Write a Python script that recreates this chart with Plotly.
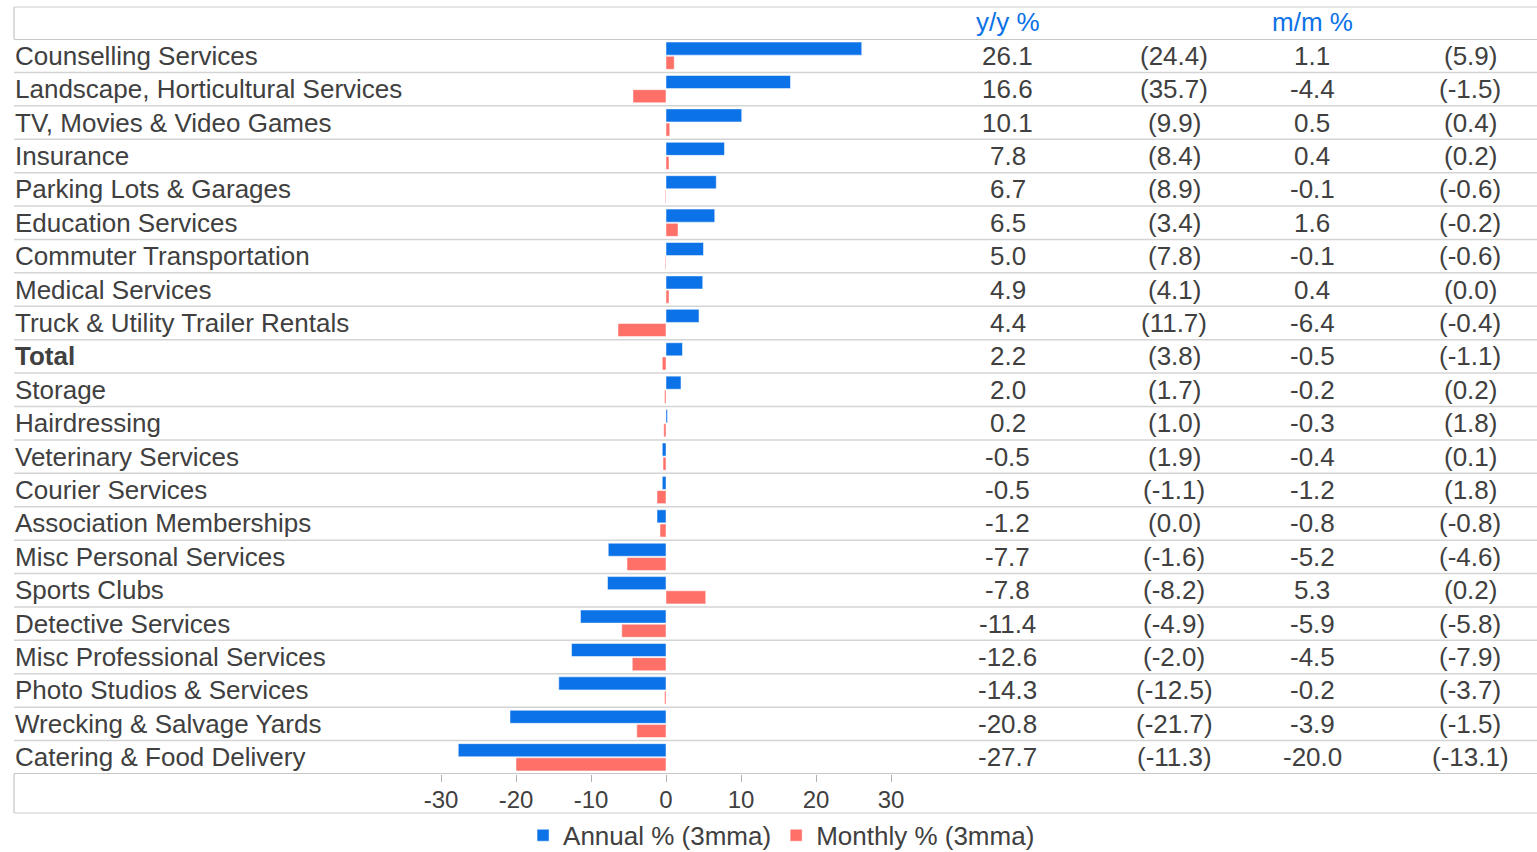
import plotly.graph_objects as go

categories = [
    "Counselling Services", "Landscape, Horticultural Services", "TV, Movies & Video Games",
    "Insurance", "Parking Lots & Garages", "Education Services", "Commuter Transportation",
    "Medical Services", "Truck & Utility Trailer Rentals", "Total", "Storage", "Hairdressing",
    "Veterinary Services", "Courier Services", "Association Memberships", "Misc Personal Services",
    "Sports Clubs", "Detective Services", "Misc Professional Services", "Photo Studios & Services",
    "Wrecking & Salvage Yards", "Catering & Food Delivery",
]
annual = [26.1, 16.6, 10.1, 7.8, 6.7, 6.5, 5.0, 4.9, 4.4, 2.2, 2.0, 0.2, -0.5, -0.5, -1.2,
          -7.7, -7.8, -11.4, -12.6, -14.3, -20.8, -27.7]
annual_prev = [24.4, 35.7, 9.9, 8.4, 8.9, 3.4, 7.8, 4.1, 11.7, 3.8, 1.7, 1.0, 1.9, -1.1, 0.0,
               -1.6, -8.2, -4.9, -2.0, -12.5, -21.7, -11.3]
monthly = [1.1, -4.4, 0.5, 0.4, -0.1, 1.6, -0.1, 0.4, -6.4, -0.5, -0.2, -0.3, -0.4, -1.2, -0.8,
           -5.2, 5.3, -5.9, -4.5, -0.2, -3.9, -20.0]
monthly_prev = [5.9, -1.5, 0.4, 0.2, -0.6, -0.2, -0.6, 0.0, -0.4, -1.1, 0.2, 1.8, 0.1, 1.8, -0.8,
                -4.6, 0.2, -5.8, -7.9, -3.7, -1.5, -13.1]
tick_vals = [-30, -20, -10, 0, 10, 20, 30]
tick_text = ["-30", "-20", "-10", "0", "10", "20", "30"]

W, H = 1537, 852
BLUE = "#0B72E7"
RED = "#FF7069"
TXT = "#404040"
FONT = "Liberation Sans, Arial, sans-serif"
FS = 26

def px(x):
    return x / W

def py(y):
    return 1 - y / H

fig = go.Figure()
fig.add_trace(go.Bar(y=categories, x=annual, orientation="h", name="Annual % (3mma)",
                     marker=dict(color=BLUE, line=dict(color="rgba(255,255,255,0.5)", width=1))))
fig.add_trace(go.Bar(y=categories, x=monthly, orientation="h", name="Monthly % (3mma)",
                     marker=dict(color=RED, line=dict(color="rgba(255,255,255,0.5)", width=1))))

zero_px = 666
scale = 7.5
fig.update_layout(
    width=W, height=H, margin=dict(l=0, r=0, t=0, b=0, autoexpand=False),
    paper_bgcolor="white", plot_bgcolor="white",
    barmode="group", bargap=0.15, bargroupgap=0.08,
    font=dict(family=FONT, size=FS, color=TXT),
    xaxis=dict(domain=[0, 1], range=[(0 - zero_px) / scale, (W - zero_px) / scale],
               tickvals=tick_vals, ticktext=tick_text, ticks="outside", ticklen=7,
               tickcolor="#b0b0b0", ticklabelstandoff=-3,
               showgrid=False, zeroline=False, showline=False,
               tickfont=dict(size=24, color=TXT)),
    yaxis=dict(domain=[py(774), py(39)], categoryorder="array", categoryarray=categories,
               range=[len(categories) - 0.5, -0.5], showticklabels=False, showgrid=False,
               zeroline=False, showline=False, ticks=""),
    legend=dict(orientation="h", x=0.5085, xanchor="center", y=-0.008, yanchor="bottom",
                font=dict(size=FS, color=TXT), itemwidth=30, traceorder="normal",
                bgcolor="rgba(0,0,0,0)"),
    showlegend=True,
)

shapes = []
# row separators
for i in range(len(categories) + 1):
    yv = i - 0.5
    col = "#b4b4b4" if i in (0, len(categories)) else "#d4d4d4"
    shapes.append(dict(type="line", xref="paper", yref="y", x0=px(14), x1=1, y0=yv, y1=yv,
                       line=dict(color=col, width=1.5)))
# frame
shapes.append(dict(type="line", xref="paper", yref="paper", x0=px(14), x1=1, y0=py(7), y1=py(7),
                   line=dict(color="#dcdcdc", width=1.5)))
shapes.append(dict(type="line", xref="paper", yref="paper", x0=px(14), x1=1, y0=py(813), y1=py(813),
                   line=dict(color="#dcdcdc", width=1.5)))
shapes.append(dict(type="line", xref="paper", yref="paper", x0=px(14), x1=px(14), y0=py(7), y1=py(39),
                   line=dict(color="#d0d0d0", width=1.5)))
shapes.append(dict(type="line", xref="paper", yref="paper", x0=px(14), x1=px(14), y0=py(774), y1=py(813),
                   line=dict(color="#d0d0d0", width=1.5)))
fig.update_layout(shapes=shapes)

ann = []
for i, c in enumerate(categories):
    label = f"<b>{c}</b>" if c == "Total" else c
    ann.append(dict(x=px(13), xref="paper", y=c, yref="y", text=label, showarrow=False,
                    xanchor="left", yanchor="middle", font=dict(size=FS, color=TXT)))
    cols = [(1008, f"{annual[i]:.1f}"), (1174, f"({annual_prev[i]:.1f})"),
            (1312, f"{monthly[i]:.1f}"), (1470, f"({monthly_prev[i]:.1f})")]
    for xc, t in cols:
        ann.append(dict(x=px(xc), xref="paper", y=c, yref="y", text=t, showarrow=False,
                        xanchor="center", yanchor="middle", font=dict(size=FS, color=TXT)))
for xc, t in [(1008, "y/y %"), (1312, "m/m %")]:
    ann.append(dict(x=px(xc), xref="paper", y=py(22), yref="paper", text=t, showarrow=False,
                    xanchor="center", yanchor="middle", font=dict(size=FS, color=BLUE)))
fig.update_layout(annotations=ann)

fig.write_html("out.html")
